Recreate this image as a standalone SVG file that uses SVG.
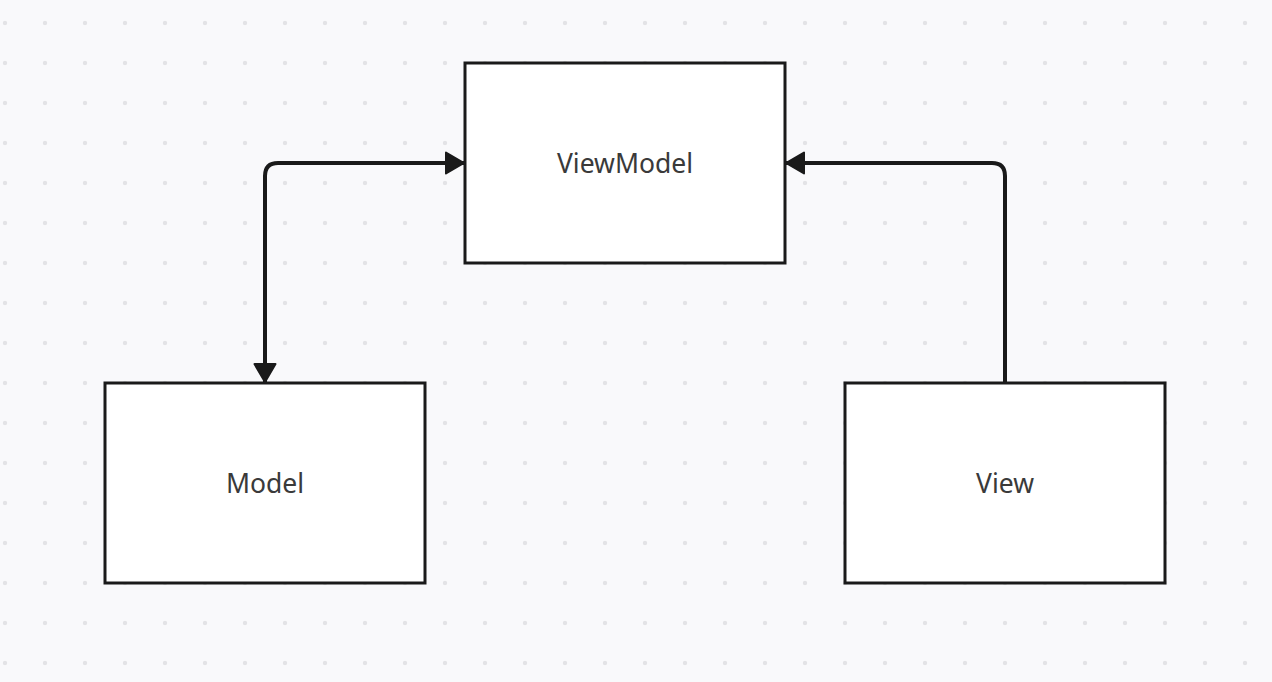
<svg xmlns="http://www.w3.org/2000/svg" width="1272" height="682" viewBox="0 0 1272 682">
<defs>
<pattern id="dots" x="0" y="0" width="40" height="40" patternUnits="userSpaceOnUse">
<circle cx="5" cy="23" r="2.2" fill="#e3e3e6"/>
</pattern>
<marker id="arr" viewBox="0 0 20 24" refX="19" refY="12" markerWidth="20" markerHeight="24" markerUnits="userSpaceOnUse" orient="auto-start-reverse">
<path d="M1,1.5 L19,12 L1,22.5 Z" fill="#1a1a1a" stroke="#1a1a1a" stroke-width="2" stroke-linejoin="round"/>
</marker>
<style>
.box{fill:#ffffff;stroke:#1a1a1a;stroke-width:3}
.lbl{font-family:"Noto Sans","Open Sans",sans-serif;font-size:26.5px;fill:#3a3a3a;text-anchor:middle;dominant-baseline:central}
.conn{fill:none;stroke:#1a1a1a;stroke-width:4}
</style>
</defs>
<rect width="1272" height="682" fill="#f9f9fb"/>
<rect width="1272" height="682" fill="url(#dots)"/>
<g id="connectors">
<path class="conn" d="M265,382 L265,176 Q265,163 278,163 L464,163" marker-start="url(#arr)" marker-end="url(#arr)"/>
<path class="conn" d="M1005,382 L1005,176 Q1005,163 992,163 L786,163" marker-end="url(#arr)"/>
</g>
<g id="viewmodel">
<rect class="box" x="465" y="63" width="320" height="200"/>
<text class="lbl" x="625" y="163">ViewModel</text>
</g>
<g id="model">
<rect class="box" x="105" y="383" width="320" height="200"/>
<text class="lbl" x="265" y="483">Model</text>
</g>
<g id="view">
<rect class="box" x="845" y="383" width="320" height="200"/>
<text class="lbl" x="1005" y="483">View</text>
</g>
</svg>
